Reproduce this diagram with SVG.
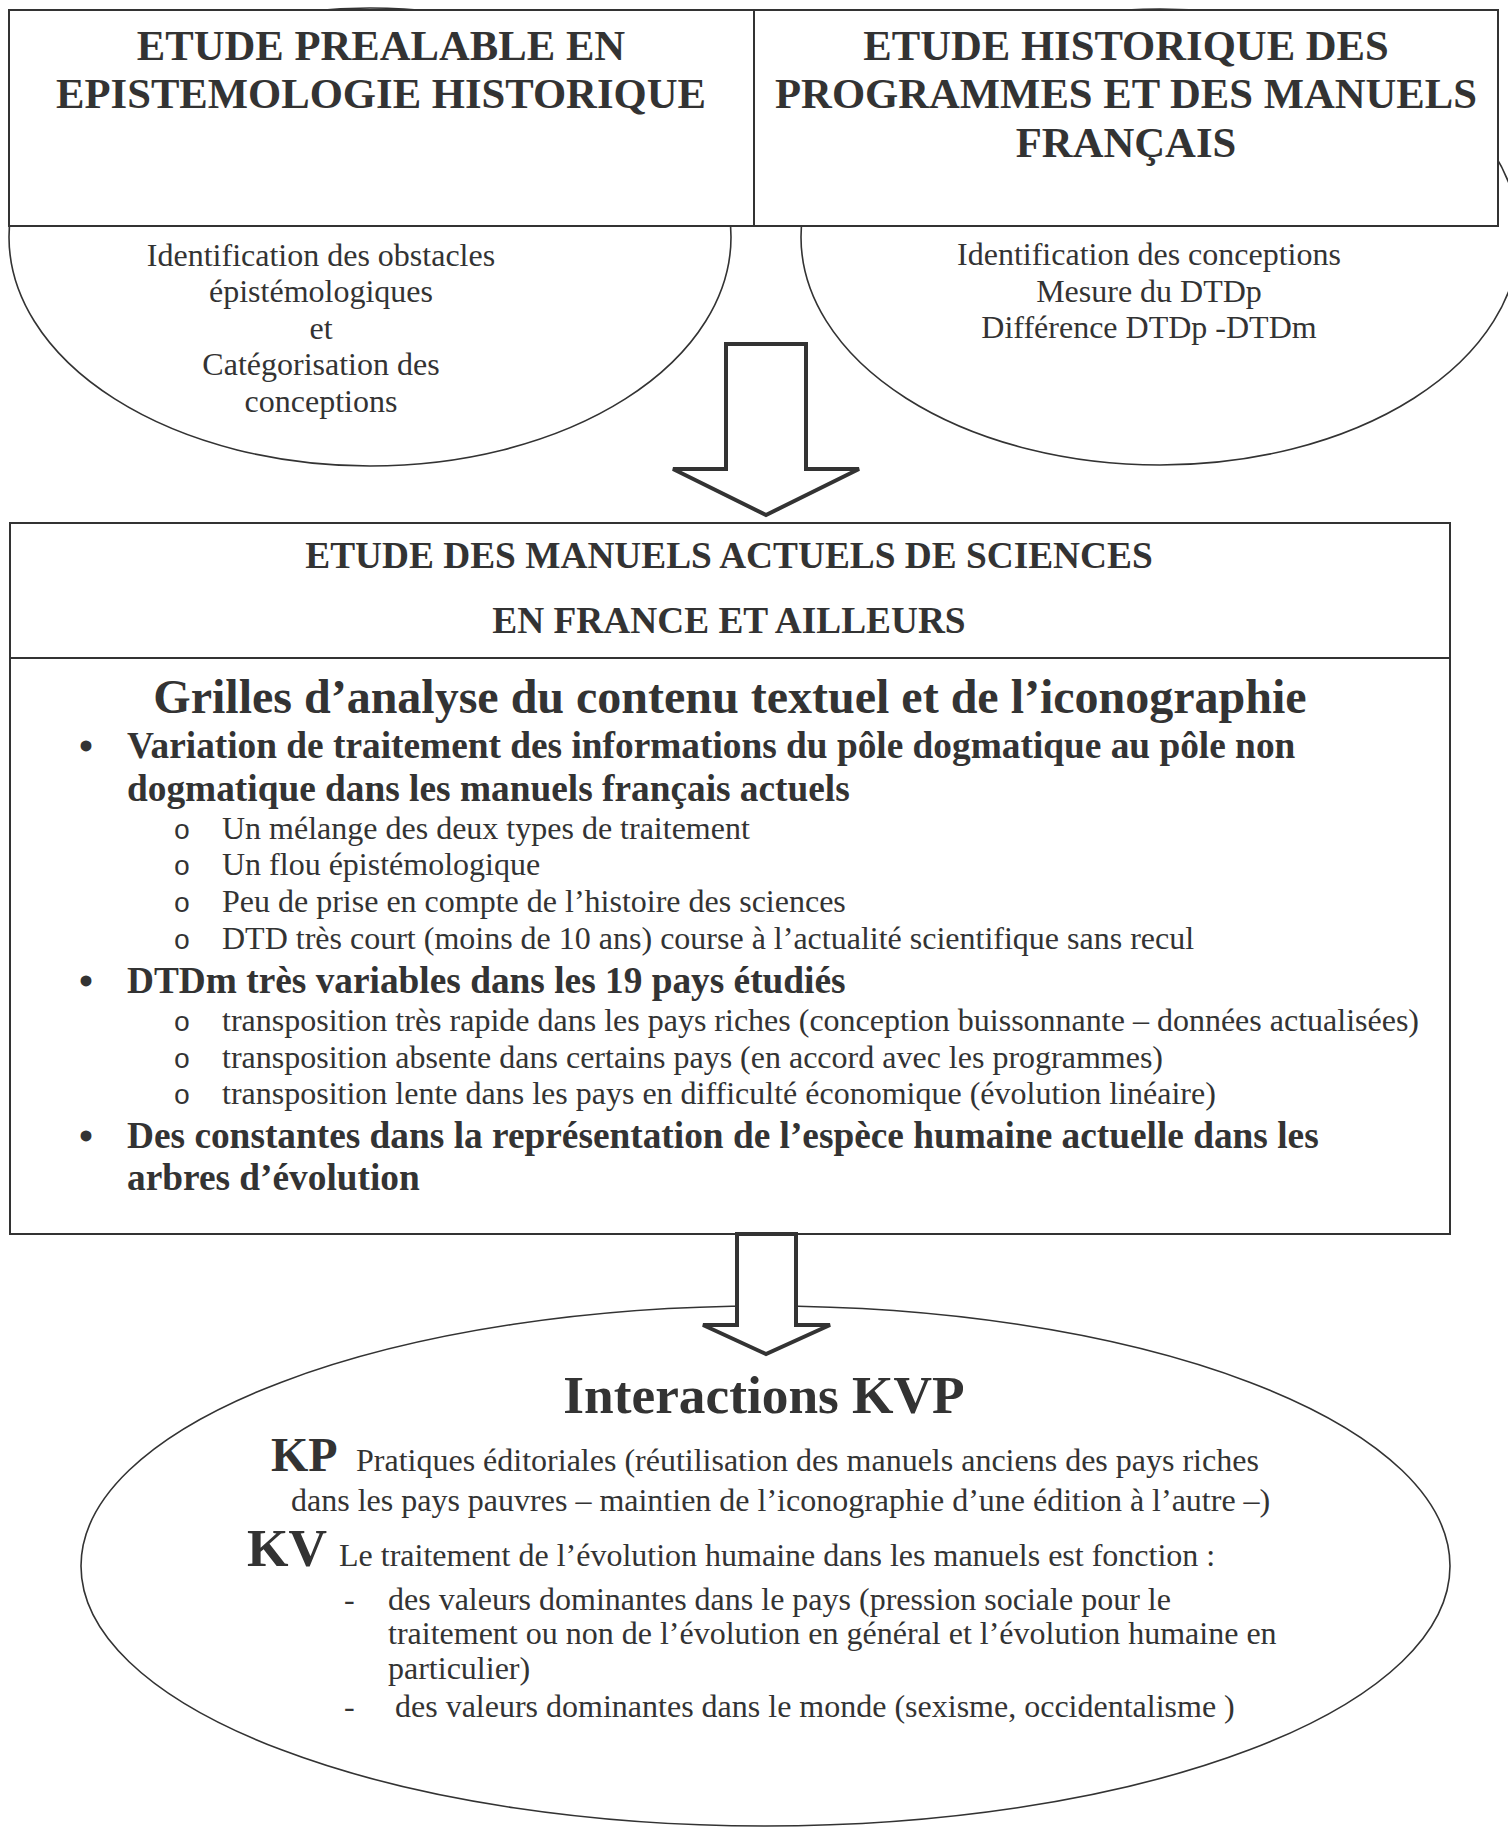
<svg xmlns="http://www.w3.org/2000/svg" width="1508" height="1829" viewBox="0 0 1508 1829">
<style>
  text { font-family: "Liberation Serif", "Times New Roman", serif; fill: #333; }
  .box { fill: #fff; stroke: #333; stroke-width: 2; }
  .ell { fill: #fff; stroke: #333; stroke-width: 1.6; }
  .arrow { fill: #fff; stroke: #333; stroke-width: 4; stroke-linejoin: miter; }
  .h1 { font-weight: bold; font-size: 42.67px; text-anchor: middle; }
  .h2 { font-weight: bold; font-size: 37.33px; text-anchor: middle; }
  .h3 { font-weight: bold; font-size: 48px; text-anchor: middle; }
  .b { font-weight: bold; font-size: 37.33px; }
  .r { font-size: 32px; }
  .rc { font-size: 32px; text-anchor: middle; }
  .sub { font-family: "Liberation Mono", "Courier New", monospace; font-size: 28px; text-anchor: middle; }
  .bul { font-size: 40px; font-weight: bold; text-anchor: middle; }
  .k1 { font-weight: bold; font-size: 48px; }
  .k2 { font-weight: bold; font-size: 53.33px; }
</style>

<g id="ellipse-obstacles">
  <ellipse class="ell" cx="370" cy="237" rx="361" ry="229"/>
  <text class="rc" x="321" y="266">Identification des obstacles</text>
  <text class="rc" x="321" y="302">épistémologiques</text>
  <text class="rc" x="321" y="339">et</text>
  <text class="rc" x="321" y="375">Catégorisation des</text>
  <text class="rc" x="321" y="412">conceptions</text>
</g>

<g id="ellipse-conceptions">
  <ellipse class="ell" cx="1160" cy="237" rx="359" ry="228"/>
  <text class="rc" x="1149" y="265">Identification des conceptions</text>
  <text class="rc" x="1149" y="302">Mesure du DTDp</text>
  <text class="rc" x="1149" y="338">Différence DTDp -DTDm</text>
</g>

<g id="box-epistemologie">
  <rect class="box" x="9" y="10" width="745" height="216"/>
  <text class="h1" x="381" y="60">ETUDE PREALABLE EN</text>
  <text class="h1" x="381" y="108">EPISTEMOLOGIE HISTORIQUE</text>
</g>

<g id="box-historique">
  <rect class="box" x="754" y="10" width="744" height="216"/>
  <text class="h1" x="1126" y="60">ETUDE HISTORIQUE DES</text>
  <text class="h1" x="1126" y="108">PROGRAMMES ET DES MANUELS</text>
  <text class="h1" x="1126" y="157">FRANÇAIS</text>
</g>

<g id="box-manuels">
  <rect class="box" x="10" y="523" width="1440" height="711"/>
  <line x1="10" y1="658" x2="1450" y2="658" stroke="#333" stroke-width="2"/>
  <text class="h2" x="729" y="568">ETUDE DES MANUELS ACTUELS DE SCIENCES</text>
  <text class="h2" x="729" y="633">EN FRANCE ET AILLEURS</text>
  <text class="h3" x="730" y="713">Grilles d’analyse du contenu textuel et de l’iconographie</text>

  <text class="bul" x="86" y="760">•</text>
  <text class="b" x="127" y="758">Variation de traitement des informations du pôle dogmatique au pôle non</text>
  <text class="b" x="127" y="801">dogmatique dans les manuels français actuels</text>
  <text class="sub" x="182" y="839">o</text>
  <text class="r" x="222" y="839">Un mélange des deux types de traitement</text>
  <text class="sub" x="182" y="875">o</text>
  <text class="r" x="222" y="875">Un flou épistémologique</text>
  <text class="sub" x="182" y="912">o</text>
  <text class="r" x="222" y="912">Peu de prise en compte de l’histoire des sciences</text>
  <text class="sub" x="182" y="949">o</text>
  <text class="r" x="222" y="949">DTD très court (moins de 10 ans) course à l’actualité scientifique sans recul</text>

  <text class="bul" x="86" y="995">•</text>
  <text class="b" x="127" y="993">DTDm très variables dans les 19 pays étudiés</text>
  <text class="sub" x="182" y="1031">o</text>
  <text class="r" x="222" y="1031">transposition très rapide dans les pays riches (conception buissonnante – données actualisées)</text>
  <text class="sub" x="182" y="1068">o</text>
  <text class="r" x="222" y="1068">transposition absente dans certains pays (en accord avec les programmes)</text>
  <text class="sub" x="182" y="1104">o</text>
  <text class="r" x="222" y="1104">transposition lente dans les pays en difficulté économique (évolution linéaire)</text>

  <text class="bul" x="86" y="1150">•</text>
  <text class="b" x="127" y="1148">Des constantes dans la représentation de l’espèce humaine actuelle dans les</text>
  <text class="b" x="127" y="1190">arbres d’évolution</text>
</g>

<g id="ellipse-interactions">
  <ellipse class="ell" cx="765.5" cy="1566" rx="684.5" ry="260"/>
  <text class="k2" x="764" y="1413" text-anchor="middle">Interactions KVP</text>
  <text class="k1" x="271" y="1471">KP</text>
  <text class="r" x="356" y="1471">Pratiques éditoriales (réutilisation des manuels anciens des pays riches</text>
  <text class="r" x="291" y="1511">dans les pays pauvres – maintien de l’iconographie d’une édition à l’autre –)</text>
  <text class="k2" x="247" y="1566">KV</text>
  <text class="r" x="339" y="1566">Le traitement de l’évolution humaine dans les manuels est fonction :</text>
  <text class="r" x="344" y="1610">-</text>
  <text class="r" x="388" y="1610">des valeurs dominantes dans le pays (pression sociale pour le</text>
  <text class="r" x="388" y="1644">traitement ou non de l’évolution en général et l’évolution humaine en</text>
  <text class="r" x="388" y="1679">particulier)</text>
  <text class="r" x="344" y="1717">-</text>
  <text class="r" x="395" y="1717">des valeurs dominantes dans le monde (sexisme, occidentalisme )</text>
</g>

<g id="connectors">
  <polygon class="arrow" points="726,344 806,344 806,469 859,469 766,515 673,469 726,469"/>
  <polygon class="arrow" points="737,1234 796,1234 796,1325 830,1325 766,1354 703,1325 737,1325"/>
</g>
</svg>
